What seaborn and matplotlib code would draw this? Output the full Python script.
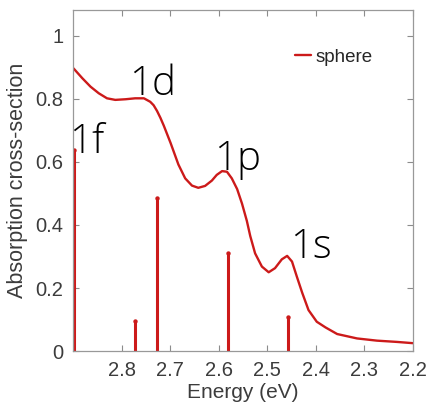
import numpy as np
import pandas as pd
import matplotlib
matplotlib.use("Agg")
import matplotlib.pyplot as plt
import seaborn as sns

# Absorption spectrum of the sphere (energy in eV, cross-section)
energy = [2.899, 2.881, 2.864, 2.847, 2.830, 2.813, 2.792, 2.772, 2.754,
          2.741, 2.734, 2.727, 2.720, 2.713, 2.699, 2.683, 2.669, 2.655,
          2.642, 2.628, 2.614, 2.604, 2.593, 2.583, 2.573, 2.562, 2.552,
          2.542, 2.535, 2.525, 2.511, 2.497, 2.484, 2.470, 2.459, 2.449,
          2.439, 2.428, 2.415, 2.398, 2.380, 2.356, 2.315, 2.274, 2.233,
          2.200]
cross_section = [0.897, 0.866, 0.839, 0.818, 0.802, 0.797, 0.799, 0.802, 0.802,
                 0.791, 0.780, 0.762, 0.740, 0.715, 0.660, 0.592, 0.548, 0.525,
                 0.518, 0.524, 0.541, 0.559, 0.571, 0.569, 0.548, 0.514, 0.468,
                 0.413, 0.365, 0.310, 0.268, 0.250, 0.263, 0.291, 0.302, 0.284,
                 0.236, 0.185, 0.130, 0.093, 0.075, 0.054, 0.040, 0.033, 0.029,
                 0.025]

# Transition energies and oscillator strengths
stem_energy = [2.898, 2.773, 2.728, 2.581, 2.458]
stem_height = [0.638, 0.096, 0.486, 0.311, 0.109]

# Transition labels
state_labels = ["1f", "1d", "1p", "1s"]
label_x = [2.908, 2.784, 2.610, 2.452]
label_y = [0.629, 0.813, 0.575, 0.295]

xticks = [2.8, 2.7, 2.6, 2.5, 2.4, 2.3, 2.2]
yticks = [0, 0.2, 0.4, 0.6, 0.8, 1.0]
ytick_labels = ["0", "0.2", "0.4", "0.6", "0.8", "1"]

sns.set_style("white")
plt.rcParams["font.family"] = ["Liberation Sans", "DejaVu Sans"]
plt.rcParams["lines.solid_joinstyle"] = "round"

red = "#cc1a1a"
grey_text = "#3c3c3c"

fig = plt.figure(figsize=(4.27, 4.13), dpi=100)
ax = fig.add_axes([0.171, 0.150, 0.796, 0.826])

spec = pd.DataFrame({"energy": energy, "cs": cross_section})
sns.lineplot(data=spec, x="energy", y="cs", ax=ax, color=red, lw=1.7,
             label="sphere", sort=False)

ax.vlines(stem_energy, 0, stem_height, color=red, lw=2.2)
sns.scatterplot(x=stem_energy, y=stem_height, ax=ax, color=red, s=10,
                edgecolor=red, linewidth=0, legend=False)

for t, x, y in zip(state_labels, label_x, label_y):
    ax.text(x, y, t, fontsize=29, color="black", ha="left", va="baseline",
            family=["Open Sans", "DejaVu Sans"], fontweight="light")

ax.set_xlim(2.9, 2.2)
ax.set_ylim(0, 1.0825)
ax.set_xticks(xticks)
ax.set_xticklabels([f"{v:.1f}" for v in xticks])
ax.set_yticks(yticks)
ax.set_yticklabels(ytick_labels)

ax.tick_params(direction="in", length=4, width=0.8, colors="#8c8c8c",
               labelcolor=grey_text, labelsize=14.5, top=True, right=True,
               bottom=True, left=True, pad=7)
for s in ax.spines.values():
    s.set_color("#999999")
    s.set_linewidth(0.9)

ax.set_xlabel("Energy (eV)", fontsize=15, color=grey_text, labelpad=2)
ax.set_ylabel("Absorption cross-section", fontsize=15.5, color=grey_text,
              labelpad=5)

leg = ax.legend(loc="center left", bbox_to_anchor=(0.653, 0.862),
                frameon=False, fontsize=13.5, handlelength=0.85,
                handletextpad=0.25, borderpad=0, borderaxespad=0)
for line in leg.get_lines():
    line.set_linewidth(1.7)

fig.savefig("out.png", dpi=100)
